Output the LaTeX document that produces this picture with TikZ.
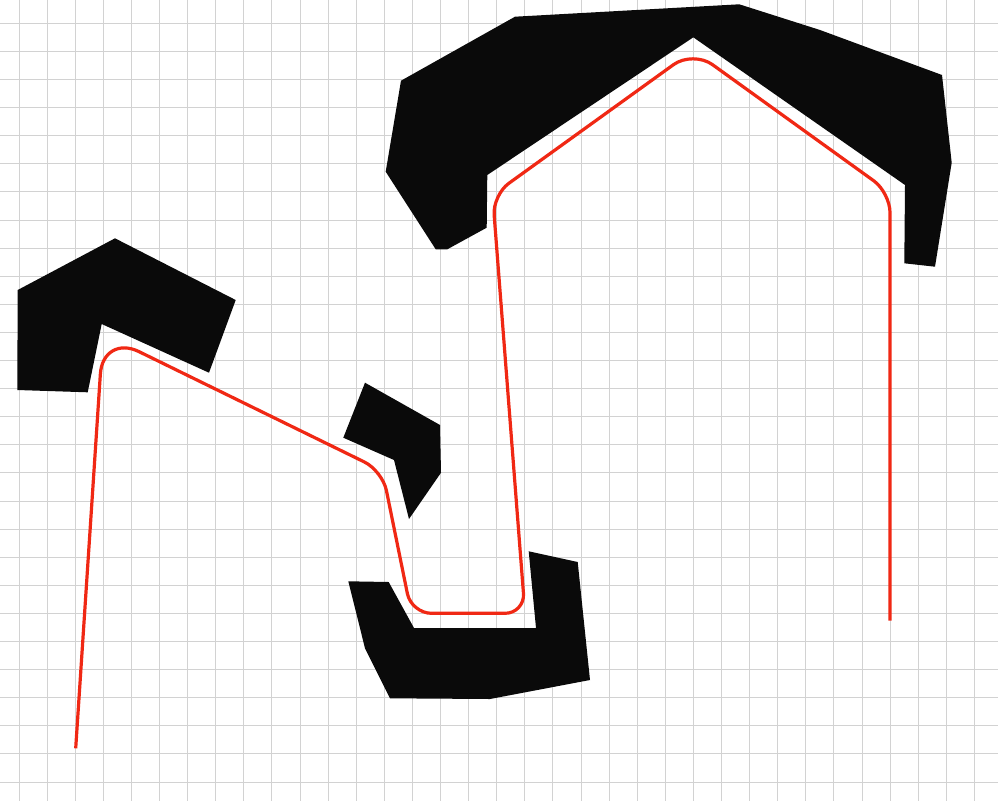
\documentclass[tikz,border=0pt]{standalone}
\usepackage{tikz}
\definecolor{obst}{HTML}{0A0A0A}
\definecolor{gridc}{HTML}{D2D2D2}
\definecolor{pathred}{RGB}{240,40,20}
\tikzset{
  obstacle/.style={fill=obst,draw=none},
  gridline/.style={draw=gridc,line width=0.9pt},
  route/.style={draw=pathred,line width=3.2pt,line join=round}
}
\begin{document}
\begin{tikzpicture}[x=1pt,y=-1pt]
\useasboundingbox (0,0) rectangle (998,801);
\fill[white] (0,0) rectangle (998,801);
% grid
\foreach \k in {0,...,34} {
  \draw[gridline] ({19+28.1*\k},0) -- ({19+28.1*\k},801);
}
\foreach \k in {0,...,27} {
  \draw[gridline] (0,{23.3+28.1*\k}) -- (998,{23.3+28.1*\k});
}
% obstacles
\fill[obstacle] (17.7,290) -- (115,238.3) -- (235.7,300) -- (209,372.7) -- (101.7,324) -- (87.7,392.3) -- (17.3,390) -- cycle;
\fill[obstacle] (365,382.7) -- (440,425) -- (441,472.7) -- (409,519) -- (394,460) -- (343.3,437.7) -- cycle;
\fill[obstacle] (348.3,581.3) -- (388.7,582) -- (414,628) -- (536,628) -- (528.7,551.3) -- (577.7,562) -- (590,680) -- (490,699) -- (390,698.3) -- (365,648.3) -- cycle;
\fill[obstacle] (401,80.7) -- (515,16.7) -- (739.3,4.3) -- (820,30) -- (942,75) -- (951.7,162.7) -- (935,266.7) -- (904.3,263.3) -- (905,185) -- (693.3,37.3) -- (487.3,175) -- (486.7,227.7) -- (447.3,249.3) -- (435.7,249.3) -- (385.7,171.7) -- cycle;
% route
\coordinate (s) at (75.7,748.3);
\coordinate (c1) at (103,334);
\coordinate (c2) at (382.4,470.8);
\coordinate (c3) at (411.4,613.3);
\coordinate (c4) at (525,613.3);
\coordinate (c5) at (492.6,195);
\coordinate (c6) at (693,50.6);
\coordinate (c7) at (890,192.5);
\coordinate (e) at (890,620.7);
\draw[route] (s) [rounded corners=40pt] -- (c1) [rounded corners=20pt] -- (c2) -- (c3) -- (c4) -- (c5) [rounded corners=24pt] -- (c6) [rounded corners=20pt] -- (c7) -- (e);
\end{tikzpicture}
\end{document}
